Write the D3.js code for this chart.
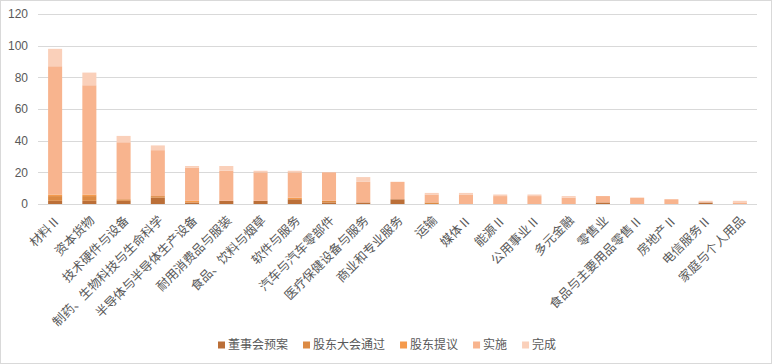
<!DOCTYPE html>
<html>
<head>
<meta charset="utf-8">
<script src="https://cdn.jsdelivr.net/npm/d3@7"></script>
<style>
  body { margin: 0; background: #fff; }
  svg { display: block; font-family: "Noto Sans CJK SC", "Liberation Sans", sans-serif; }
</style>
</head>
<body>
<svg></svg>
<script>
// categories (industries)
const categories = ["材料Ⅱ", "资本货物", "技术硬件与设备", "制药、生物科技与生命科学", "半导体与半导体生产设备",
  "耐用消费品与服装", "食品、饮料与烟草", "软件与服务", "汽车与汽车零部件", "医疗保健设备与服务",
  "商业和专业服务", "运输", "媒体Ⅱ", "能源Ⅱ", "公用事业Ⅱ", "多元金融", "零售业",
  "食品与主要用品零售Ⅱ", "房地产Ⅱ", "电信服务Ⅱ", "家庭与个人用品"];

// series values, stacked bottom to top
const boardPlan   = [2, 2, 2, 4, 1, 2, 2, 3, 1, 1, 3, 0, 0, 0, 0, 0, 1, 0, 0, 1, 0]; // 董事会预案
const agmPassed   = [3, 3, 1, 1, 0, 0, 0, 0, 1, 0, 0, 1, 0, 0, 0, 0, 0, 0, 0, 0, 0]; // 股东大会通过
const holderProp  = [1, 1, 0, 0, 1, 0, 0, 1, 0, 0, 0, 0, 0, 0, 0, 0, 0, 0, 0, 0, 0]; // 股东提议
const implemented = [81, 69, 36, 29, 21, 19, 18, 16, 18, 13, 11, 5, 6, 5, 5, 4, 4, 4, 3, 0, 1]; // 实施
const completed   = [11, 8, 4, 3, 1, 3, 1, 1, 0, 3, 0, 1, 1, 1, 1, 1, 0, 0, 0, 1, 1]; // 完成

const seriesNames = ["董事会预案", "股东大会通过", "股东提议", "实施", "完成"];
const seriesColors = ["#bb6f38", "#dc8a43", "#f59a4c", "#f8b48e", "#fad0ba"];
const yTicks = [0, 20, 40, 60, 80, 100, 120];

const width = 772, height = 364;
const svg = d3.select("svg").attr("width", width).attr("height", height);

// outer chart border
svg.append("rect")
  .attr("x", 0.5).attr("y", 0.5)
  .attr("width", width - 1).attr("height", height - 1)
  .attr("fill", "#fff").attr("stroke", "#d9d9d9");

const plotLeft = 38, plotRight = 757, plotTop = 14, plotBottom = 204;

const x = d3.scaleBand().domain(categories).range([plotLeft, plotRight])
  .paddingInner(0.59).paddingOuter(0.295);
const y = d3.scaleLinear().domain([0, 120]).range([plotBottom, plotTop]);

// gridlines
svg.append("g").selectAll("line").data(yTicks).join("line")
  .attr("x1", plotLeft).attr("x2", plotRight)
  .attr("y1", d => Math.round(y(d)) + 0.5).attr("y2", d => Math.round(y(d)) + 0.5)
  .attr("stroke", "#d9d9d9").attr("stroke-width", 1);

// y labels
svg.append("g").selectAll("text").data(yTicks).join("text")
  .attr("x", 28).attr("y", d => y(d))
  .attr("dy", "0.35em")
  .attr("text-anchor", "end")
  .attr("font-family", "'Liberation Sans', sans-serif")
  .attr("font-size", 12)
  .attr("fill", "#595959")
  .text(d => d);

// stack data
const rows = categories.map((c, i) => ({
  cat: c,
  s0: boardPlan[i], s1: agmPassed[i], s2: holderProp[i], s3: implemented[i], s4: completed[i]
}));
const stack = d3.stack().keys(["s0", "s1", "s2", "s3", "s4"])(rows);

svg.append("g").selectAll("g").data(stack).join("g")
  .attr("fill", (d, i) => seriesColors[i])
  .selectAll("rect").data(d => d).join("rect")
  .attr("x", d => x(d.data.cat))
  .attr("width", x.bandwidth())
  .attr("y", d => y(d[1]))
  .attr("height", d => y(d[0]) - y(d[1]));

// x labels, rotated
svg.append("g").selectAll("text").data(categories).join("text")
  .attr("transform", d => `translate(${x(d) + x.bandwidth() / 2 + 3},${plotBottom + 14}) rotate(-45)`)
  .attr("text-anchor", "end")
  .attr("dy", "0.35em")
  .attr("font-size", 12.5)
  .attr("fill", "#595959")
  .text(d => d);

// legend
const legend = svg.append("g");
let lx = 0;
seriesNames.forEach((name, i) => {
  const item = legend.append("g").attr("transform", `translate(${lx},0)`);
  item.append("rect").attr("x", 0).attr("y", -3.5).attr("width", 7).attr("height", 7)
    .attr("fill", seriesColors[i]);
  const t = item.append("text").attr("x", 10).attr("y", 0).attr("dy", "0.35em")
    .attr("font-size", 12).attr("fill", "#595959").text(name);
  lx += 10 + t.node().getComputedTextLength() + 15;
});
const legendWidth = lx - 15;
legend.attr("transform", `translate(${Math.round(387 - legendWidth / 2)},345)`);
</script>
</body>
</html>
